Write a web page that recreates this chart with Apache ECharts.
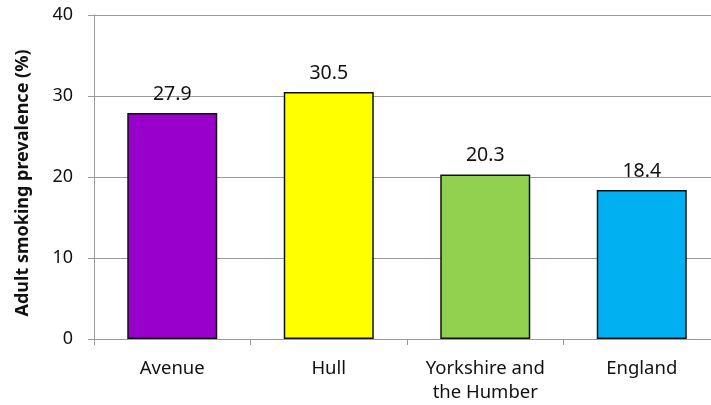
<!DOCTYPE html>
<html><head><meta charset="utf-8">
<script src="https://cdn.jsdelivr.net/npm/echarts@6/dist/echarts.min.js"></script>
<style>html,body{margin:0;padding:0;background:#fff}#c{width:711px;height:405px}</style>
</head><body><div id="c"></div>
<script>
const categories = ['Avenue', 'Hull', 'Yorkshire and\nthe Humber', 'England'];
const values = [27.9, 30.5, 20.3, 18.4];
const barColors = ['#9900CC', '#FFFF00', '#92D050', '#00B0F0'];
const yTicks = [0, 10, 20, 30, 40];

const chart = echarts.init(document.getElementById('c'));
const font = 'Noto Sans';
chart.setOption({
  animation: false,
  grid: { left: 94, top: 15, width: 626, height: 324, containLabel: false, outerBoundsMode: 'none' },
  xAxis: {
    type: 'category', data: categories,
    axisLine: { lineStyle: { color: '#999', width: 1 } },
    axisTick: { show: true, length: 6, lineStyle: { color: '#999' } },
    axisLabel: { color: '#111', fontFamily: font, fontSize: 18.5, margin: 18, lineHeight: 24 }
  },
  yAxis: {
    type: 'value', min: 0, max: 40, interval: 10,
    name: 'Adult smoking prevalence (%)', nameLocation: 'middle', nameGap: 62,
    nameTextStyle: { fontFamily: font, fontWeight: 'bold', fontSize: 18, color: '#111', padding: [0, 12, 0, 0] },
    axisLine: { show: true, lineStyle: { color: '#999' } },
    axisTick: { show: true, length: 6, lineStyle: { color: '#999' } },
    splitLine: { lineStyle: { color: '#999', width: 1 } },
    axisLabel: { color: '#111', fontFamily: font, fontSize: 18, margin: 21 }
  },
  series: [{
    type: 'bar', barWidth: 90,
    data: values.map((v, i) => ({ value: v, itemStyle: { color: barColors[i] } })),
    itemStyle: { borderColor: '#111', borderWidth: 1.5 },
    label: { show: true, position: 'top', distance: 9, color: '#111', fontFamily: font, fontSize: 19.5, formatter: p => p.value.toFixed(1) }
  }]
});
</script></body></html>
